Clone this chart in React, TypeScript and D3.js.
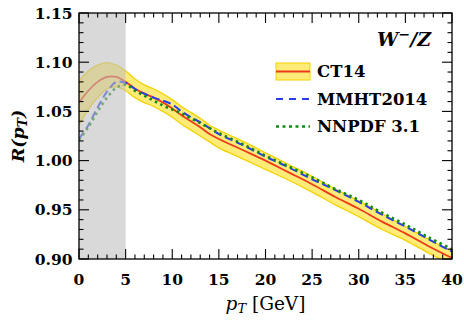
import { useEffect, useRef } from "react";
import * as d3 from "d3";

// pT grid (GeV) shared by all curves
const pt = [0, 1, 2, 3, 4, 5, 6, 7, 8, 9, 10, 11, 12, 13, 14, 15, 17.5, 20, 22.5, 25, 27.5, 30, 32.5, 35, 37.5, 40];

const ct14Central = [1.059, 1.071, 1.080, 1.085, 1.085, 1.080, 1.073, 1.068, 1.064, 1.059, 1.053, 1.046, 1.040, 1.034, 1.027, 1.022, 1.011, 1.000, 0.988, 0.976, 0.963, 0.951, 0.938, 0.926, 0.913, 0.901];
const ct14Upper = [1.081, 1.091, 1.097, 1.0995, 1.097, 1.091, 1.083, 1.077, 1.073, 1.068, 1.062, 1.055, 1.049, 1.043, 1.036, 1.031, 1.020, 1.008, 0.996, 0.984, 0.971, 0.959, 0.946, 0.933, 0.920, 0.908];
const ct14Lower = [1.036, 1.052, 1.064, 1.073, 1.075, 1.071, 1.064, 1.059, 1.055, 1.050, 1.044, 1.037, 1.031, 1.025, 1.019, 1.013, 1.002, 0.991, 0.980, 0.968, 0.955, 0.943, 0.930, 0.919, 0.906, 0.894];
const mmht = [1.022, 1.036, 1.054, 1.070, 1.080, 1.079, 1.073, 1.068, 1.064, 1.061, 1.057, 1.050, 1.044, 1.039, 1.033, 1.027, 1.016, 1.004, 0.993, 0.981, 0.970, 0.958, 0.945, 0.933, 0.920, 0.9075];
const nnpdf = [1.021, 1.034, 1.050, 1.064, 1.074, 1.077, 1.071, 1.066, 1.061, 1.056, 1.052, 1.048, 1.043, 1.038, 1.033, 1.028, 1.017, 1.005, 0.994, 0.983, 0.971, 0.960, 0.947, 0.935, 0.922, 0.910];

const xTicks = [0, 5, 10, 15, 20, 25, 30, 35, 40];
const yTicks = [0.90, 0.95, 1.00, 1.05, 1.10, 1.15];
const legendLabels = ["CT14", "MMHT2014", "NNPDF 3.1"];
const shadedRange = [0, 5];

const W = 464;
const H = 320;

export default function App() {
  const svgRef = useRef<SVGSVGElement>(null);

  useEffect(() => {
    if (!svgRef.current) return;
    const svg = d3.select(svgRef.current);
    svg.selectAll("*").remove();

    const margin = { top: 13, right: 12, bottom: 61, left: 79 };
    const width = W - margin.left - margin.right;
    const height = H - margin.top - margin.bottom;

    const x = d3.scaleLinear().domain([0, 40]).range([0, width]);
    const y = d3.scaleLinear().domain([0.9, 1.15]).range([height, 0]);

    const g = svg.append("g").attr("transform", `translate(${margin.left},${margin.top})`);

    g.append("defs")
      .append("clipPath")
      .attr("id", "plot-clip")
      .append("rect")
      .attr("width", width)
      .attr("height", height);

    const plot = g.append("g").attr("clip-path", "url(#plot-clip)");

    // CT14 uncertainty band
    const area = d3.area<number>()
      .x((_, i) => x(pt[i]))
      .y0((_, i) => y(ct14Lower[i]))
      .y1((_, i) => y(ct14Upper[i]))
      .curve(d3.curveCatmullRom);

    plot.append("path")
      .datum(pt)
      .attr("fill", "#ffec78")
      .attr("stroke", "#f2d200")
      .attr("stroke-width", 1.3)
      .attr("d", area);

    const line = (vals: number[]) =>
      d3.line<number>()
        .x((_, i) => x(pt[i]))
        .y((d) => y(d))
        .curve(d3.curveCatmullRom)(vals);

    plot.append("path")
      .attr("d", line(ct14Central))
      .attr("fill", "none")
      .attr("stroke", "#ee3a1a")
      .attr("stroke-width", 1.8);

    plot.append("path")
      .attr("d", line(mmht))
      .attr("fill", "none")
      .attr("stroke", "#2a3cf0")
      .attr("stroke-width", 2)
      .attr("stroke-dasharray", "8,4");

    plot.append("path")
      .attr("d", line(nnpdf))
      .attr("fill", "none")
      .attr("stroke", "#118a14")
      .attr("stroke-width", 2.6)
      .attr("stroke-dasharray", "2.5,3.5");

    // shaded low-pT region, drawn over the curves
    plot.append("rect")
      .attr("x", x(shadedRange[0]))
      .attr("y", 0)
      .attr("width", x(shadedRange[1]) - x(shadedRange[0]))
      .attr("height", height)
      .attr("fill", "#bdbdbd")
      .attr("fill-opacity", 0.58);

    // frame and ticks on all four sides (pointing inward)
    const major = 10;
    const minor = 4.5;
    const ticksG = g.append("g").attr("stroke", "#000").attr("stroke-width", 1.1);

    d3.range(0, 41, 1).forEach((v) => {
      const len = v % 5 === 0 ? major : minor;
      ticksG.append("line").attr("x1", x(v)).attr("x2", x(v)).attr("y1", height).attr("y2", height - len);
      ticksG.append("line").attr("x1", x(v)).attr("x2", x(v)).attr("y1", 0).attr("y2", len);
    });
    d3.range(90, 116, 1).forEach((k) => {
      const v = k / 100;
      const len = k % 5 === 0 ? major : minor;
      ticksG.append("line").attr("x1", 0).attr("x2", len).attr("y1", y(v)).attr("y2", y(v));
      ticksG.append("line").attr("x1", width).attr("x2", width - len).attr("y1", y(v)).attr("y2", y(v));
    });

    g.append("rect")
      .attr("width", width)
      .attr("height", height)
      .attr("fill", "none")
      .attr("stroke", "#000")
      .attr("stroke-width", 1.3);

    // tick labels
    const tickFont = "'DejaVu Serif', serif";
    g.append("g")
      .selectAll("text")
      .data(xTicks)
      .enter()
      .append("text")
      .attr("x", (d) => x(d))
      .attr("y", height + 26)
      .attr("text-anchor", "middle")
      .attr("font-family", tickFont)
      .attr("font-weight", "bold")
      .attr("font-size", 15.5)
      .text((d) => String(d));

    g.append("g")
      .selectAll("text")
      .data(yTicks)
      .enter()
      .append("text")
      .attr("x", -6.5)
      .attr("y", (d) => y(d) + 5.5)
      .attr("text-anchor", "end")
      .attr("font-family", tickFont)
      .attr("font-weight", "bold")
      .attr("font-size", 15.5)
      .text((d) => d.toFixed(2));

    // axis titles
    const xLabel = svg.append("text")
      .attr("x", margin.left + width / 2)
      .attr("y", 310)
      .attr("text-anchor", "middle")
      .attr("font-family", tickFont)
      .attr("font-size", 18.5);
    xLabel.append("tspan").attr("font-style", "italic").text("p");
    xLabel.append("tspan").attr("font-style", "italic").attr("font-size", 13).attr("dy", 3).text("T");
    xLabel.append("tspan").attr("dy", -3).text(" [GeV]");

    const yLabel = svg.append("text")
      .attr("transform", `translate(24,${margin.top + height / 2}) rotate(-90)`)
      .attr("text-anchor", "middle")
      .attr("font-family", tickFont)
      .attr("font-weight", "bold")
      .attr("font-style", "italic")
      .attr("font-size", 17.5);
    yLabel.append("tspan").text("R(p");
    yLabel.append("tspan").attr("font-size", 12.5).attr("dy", 3).text("T");
    yLabel.append("tspan").attr("dy", -3).text(")");

    // process label
    const proc = svg.append("text")
      .attr("x", 431)
      .attr("y", 46)
      .attr("text-anchor", "end")
      .attr("font-family", tickFont)
      .attr("font-weight", "bold")
      .attr("font-style", "italic")
      .attr("font-size", 19);
    proc.append("tspan").text("W");
    proc.append("tspan").attr("font-size", 14).attr("dy", -7).text("−");
    proc.append("tspan").attr("dy", 7).text("/Z");

    // legend
    const lx0 = 276;
    const lx1 = 310;
    const rows = [71.5, 99, 126.5];
    const legend = svg.append("g");

    legend.append("rect")
      .attr("x", lx0)
      .attr("y", rows[0] - 8.5)
      .attr("width", lx1 - lx0)
      .attr("height", 17)
      .attr("fill", "#ffec78")
      .attr("stroke", "#f2d200")
      .attr("stroke-width", 1);
    legend.append("line")
      .attr("x1", lx0).attr("x2", lx1).attr("y1", rows[0]).attr("y2", rows[0])
      .attr("stroke", "#ee3a1a").attr("stroke-width", 1.8);
    legend.append("line")
      .attr("x1", lx0).attr("x2", lx1).attr("y1", rows[1]).attr("y2", rows[1])
      .attr("stroke", "#2a3cf0").attr("stroke-width", 2).attr("stroke-dasharray", "7,6");
    legend.append("line")
      .attr("x1", lx0).attr("x2", lx1).attr("y1", rows[2]).attr("y2", rows[2])
      .attr("stroke", "#118a14").attr("stroke-width", 2.6).attr("stroke-dasharray", "3,3.5");

    legend.selectAll("text.lbl")
      .data(legendLabels)
      .enter()
      .append("text")
      .attr("class", "lbl")
      .attr("x", 317)
      .attr("y", (_, i) => rows[i] + 5.5)
      .attr("font-family", tickFont)
      .attr("font-weight", "bold")
      .attr("font-size", 16.5)
      .text((d) => d);
  }, []);

  return (
    <>
      <style>{`body{margin:0}`}</style>
      <svg ref={svgRef} width={W} height={H} style={{ display: "block", background: "#fff" }} />
    </>
  );
}
